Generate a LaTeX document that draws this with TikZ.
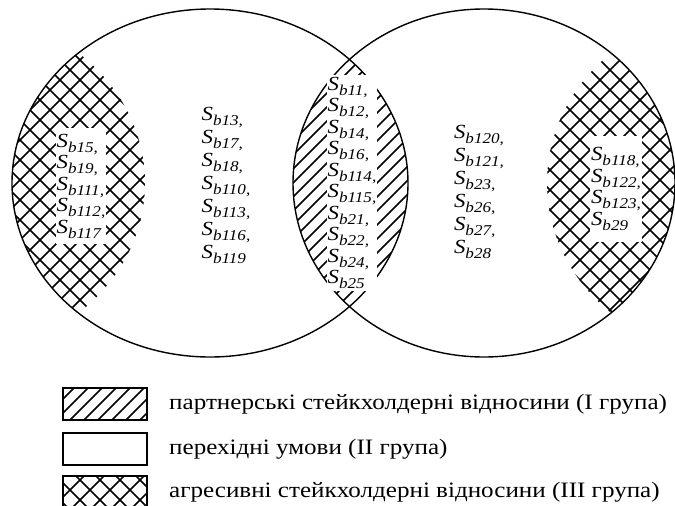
\documentclass[tikz,border=0pt]{standalone}
\usepackage{fontspec}
\setmainfont{Liberation Serif}[FakeStretch=1.14]
\usetikzlibrary{positioning}

\newcommand{\stk}[1]{\textit{S}\raisebox{-5pt}{\fontsize{15}{15}\selectfont\textit{b#1}}}
% diagonal hatching (/) and cross hatching over the current clip
\newcommand{\hatchNE}[1]{\foreach \c in {0,#1,...,1300} \draw[hline] (\c,0) -- (\c-600,600);}
\newcommand{\hatchX}[1]{\hatchNE{#1}\foreach \c in {-600,-580,...,700} \draw[hline] (\c,0) -- (\c+600,600);}

\begin{document}
\begin{tikzpicture}[
    x=1pt, y=-1pt,
    rim/.style={line width=1.4pt},
    hline/.style={line width=1.5pt},
    list/.style={fill=white, inner xsep=1pt, inner ysep=6pt, align=left, font=\fontsize{20}{21.5}\selectfont},
    widelist/.style={list, font=\fontsize{20}{23}\selectfont},
    legbox/.style={draw, line width=1.4pt, minimum width=84pt, minimum height=32pt, inner sep=0pt},
    legtext/.style={right=18pt of #1, font=\fontsize{22}{24}\selectfont}
]
\useasboundingbox (0,0) rectangle (675,506);

% lens: partner relations
\begin{scope}
  \clip (210,183) ellipse [x radius=198, y radius=174];
  \clip (484,183) ellipse [x radius=191, y radius=174];
  \hatchNE{14}
\end{scope}
% aggressive zones
\begin{scope}
  \clip (210,183) ellipse [x radius=198, y radius=174];
  \clip (-53,183) ellipse [x radius=198, y radius=174];
  \hatchX{20}
\end{scope}
\begin{scope}
  \clip (484,183) ellipse [x radius=191, y radius=174];
  \clip (738,183) ellipse [x radius=191, y radius=174];
  \hatchX{20}
\end{scope}

\draw[rim] (210,183) ellipse [x radius=198, y radius=174];
\draw[rim] (484,183) ellipse [x radius=191, y radius=174];

\node[list] (aggL) at (81,186) {\stk{15,}\\ \stk{19,}\\ \stk{111,}\\ \stk{112,}\\ \stk{117}};
\node[widelist, fill=none] (transL) at (226,185) {\stk{13,}\\ \stk{17,}\\ \stk{18,}\\ \stk{110,}\\ \stk{113,}\\ \stk{116,}\\ \stk{119}};
\node[list, inner ysep=2pt] (partner) at (352,183) {\stk{11,}\\ \stk{12,}\\ \stk{14,}\\ \stk{16,}\\ \stk{114,}\\ \stk{115,}\\ \stk{21,}\\ \stk{22,}\\ \stk{24,}\\ \stk{25}};
\node[widelist, fill=none] (transR) at (479,192) {\stk{120,}\\ \stk{121,}\\ \stk{23,}\\ \stk{26,}\\ \stk{27,}\\ \stk{28}};
\node[list, inner ysep=12pt] (aggR) at (616,189) {\stk{118,}\\ \stk{122,}\\ \stk{123,}\\ \stk{29}};

% legend
\node[legbox] (leg1) at (105,404) {};
\node[legbox] (leg2) at (105,449) {};
\node[legbox] (leg3) at (105,492) {};
\begin{scope}
  \clip (leg1.south west) rectangle (leg1.north east);
  \hatchNE{14}
\end{scope}
\begin{scope}
  \clip (leg3.south west) rectangle (leg3.north east);
  \hatchX{20}
\end{scope}
\node[legbox] at (leg1) {};
\node[legbox] at (leg3) {};
\node[legtext=leg1] (txt1) {партнерські стейкхолдерні відносини (І група)};
\node[legtext=leg2] (txt2) {перехідні умови (ІІ група)};
\node[legtext=leg3] (txt3) {агресивні стейкхолдерні відносини (ІІІ група)};
\end{tikzpicture}
\end{document}
